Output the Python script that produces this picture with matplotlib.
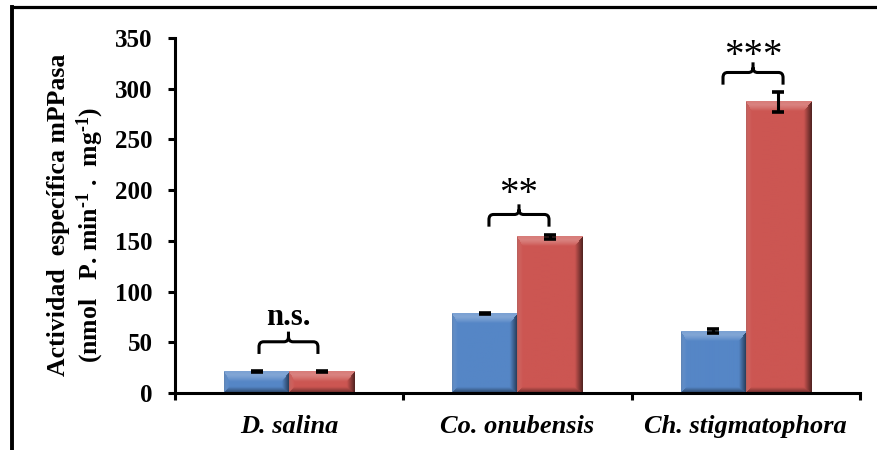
import numpy as np
import matplotlib
matplotlib.use("Agg")
import matplotlib.pyplot as plt
from matplotlib.path import Path
from matplotlib.patches import PathPatch
from matplotlib.lines import Line2D

# ---- data -------------------------------------------------------------
species = ["D. salina", "Co. onubensis", "Ch. stigmatophora"]
control = [21, 78, 61]          # blue series
treated = [21, 154, 287]        # red series
control_err = [0.5, 0.5, 2]
treated_err = [0.5, 2, 10]
signif = ["n.s.", "**", "***"]
y_ticks = [0, 50, 100, 150, 200, 250, 300, 350]

# ---- style ------------------------------------------------------------
SERIF = "Liberation Serif"
plt.rcParams["font.family"] = [SERIF, "DejaVu Serif"]
plt.rcParams["mathtext.fontset"] = "custom"
plt.rcParams["mathtext.rm"] = "Liberation Serif:bold"
plt.rcParams["mathtext.bf"] = "Liberation Serif:bold"
plt.rcParams["mathtext.it"] = "Liberation Serif:bold:italic"

BLUE = np.array([85, 134, 198]) / 255
RED = np.array([204, 86, 82]) / 255

W, H = 878, 450
fig = plt.figure(figsize=(W / 100, H / 100), dpi=100)
ax = fig.add_axes([175 / W, 1 - 393 / H, 685 / W, 355 / H])
ax.set_xlim(0, 3)
ax.set_ylim(0, 350)

# outer frame (left and top rules)
fig.add_artist(Line2D([12 / W, 12 / W], [0, 1 - 7 / H], transform=fig.transFigure,
                      color="black", lw=2.8, solid_capstyle="projecting"))
fig.add_artist(Line2D([12 / W, 1], [1 - 7 / H, 1 - 7 / H], transform=fig.transFigure,
                      color="black", lw=2.3, solid_capstyle="projecting"))

centers = np.arange(len(species)) + 0.5
bw = 0.285


def bevel_image(rgb, wpx, hpx):
    """Shaded face for a bar: light top/left bevels, dark right/bottom bevels."""
    h = max(int(round(hpx)), 2)
    w = max(int(round(wpx)), 2)
    ii = (np.arange(h)[:, None] + 0.5) * np.ones((1, w))
    jj = (np.arange(w)[None, :] + 0.5) * np.ones((h, 1))
    widths = np.array([10.0, 6.0, 6.0, 8.0])        # top, bottom, left, right
    scale = min(1.0, h / (widths[0] + widths[1]), w / (widths[2] + widths[3]))
    widths = widths * scale
    dist = np.stack([ii, h - ii, jj, w - jj])
    norm = dist / widths[:, None, None]
    edge = norm.argmin(0)
    t = np.clip(1 - norm.min(0), 0, 1)[..., None]
    base = np.ones((h, w, 3)) * rgb
    img = base.copy()
    top = base + (1 - base) * (0.34 * np.clip(t * 1.6, 0, 1)) * (1 - 0.35 * t)
    bot = base * (1 - 0.5 * t)
    left = base + (1 - base) * 0.12 * t - base * 0.15 * t ** 4
    right = base * (1 - 0.62 * t)
    for k, arr in enumerate([top, bot, left, right]):
        m = (edge == k)[..., None] & (t > 0)
        img = np.where(m, arr, img)
    return np.clip(img, 0, 1)


def draw_bar(x0, x1, val, rgb):
    p0 = ax.transData.transform((x0, 0))
    p1 = ax.transData.transform((x1, val))
    img = bevel_image(rgb, p1[0] - p0[0], p1[1] - p0[1])
    ax.imshow(img, extent=(x0, x1, 0, val), origin="upper", aspect="auto",
              interpolation="bilinear", zorder=2)


for c, v in zip(centers, control):
    draw_bar(c - bw, c, v, BLUE)
for c, v in zip(centers, treated):
    draw_bar(c, c + bw, v, RED)

ax.set_xlim(0, 3)
ax.set_ylim(0, 350)

ax.errorbar(centers - bw / 2, control, yerr=control_err, fmt="none", ecolor="black",
            elinewidth=2.2, capsize=4.3, capthick=2.6, zorder=4)
ax.errorbar(centers + bw / 2, treated, yerr=treated_err, fmt="none", ecolor="black",
            elinewidth=2.2, capsize=4.3, capthick=2.6, zorder=4)

# significance braces
bracket_x = [(0.368, 0.626), (1.375, 1.638), (2.400, 2.663)]
bracket_y = [38.5, 164, 304]
leg, tip = 12, 10
rx, ry = 0.02, 5
label_y = [74, 196, 332]
for (xl, xr), yb, lab, ly in zip(bracket_x, bracket_y, signif, label_y):
    yt = yb + leg
    xc = (xl + xr) / 2
    verts = [(xl, yb), (xl, yt - ry), (xl, yt), (xl + rx, yt), (xc - rx, yt), (xc, yt), (xc, yt + ry),
             (xc, yt + tip),
             (xc, yt + ry), (xc, yt), (xc + rx, yt), (xr - rx, yt), (xr, yt), (xr, yt - ry), (xr, yb)]
    codes = [Path.MOVETO, Path.LINETO, Path.CURVE3, Path.CURVE3, Path.LINETO, Path.CURVE3, Path.CURVE3,
             Path.LINETO,
             Path.MOVETO, Path.CURVE3, Path.CURVE3, Path.LINETO, Path.CURVE3, Path.CURVE3, Path.LINETO]
    ax.add_patch(PathPatch(Path(verts, codes), fill=False, lw=2.2, edgecolor="black",
                           capstyle="butt", zorder=5))
    if lab == "n.s.":
        ax.text(xc, ly, lab, ha="center", va="center", fontsize=22, fontweight="bold",
                family=SERIF, zorder=6)
    else:
        ax.text(xc, ly, lab, ha="center", va="center", fontsize=28, family=SERIF, zorder=6)

# axes styling
for s in ["top", "right"]:
    ax.spines[s].set_visible(False)
for s in ["left", "bottom"]:
    ax.spines[s].set_linewidth(2.2)
    ax.spines[s].set_color("black")

ax.set_yticks(y_ticks)
ax.set_yticklabels([str(v) for v in y_ticks], fontsize=18, fontweight="bold", family=SERIF)
ax.tick_params(axis="y", direction="out", length=5, width=2.2, pad=11)

ax.set_xticks([0, 1, 2, 3])
ax.set_xticklabels([])
ax.set_xticks(centers, minor=True)
ax.set_xticklabels(species, minor=True, fontsize=19, fontweight="bold", style="italic",
                   family=SERIF)
ax.tick_params(axis="x", which="major", direction="out", length=5, width=2.2)
ax.tick_params(axis="x", which="minor", length=0, pad=16)

# y-axis title in two lines
fig.text(59 / W, 1 - 215 / H, "Actividad  específica mPPasa", rotation=90, ha="center",
         va="center", fontsize=18.5, fontweight="bold", family=SERIF)
fig.text(90 / W, 1 - 235 / H, "(nmol   P. min$^{\u20101}$ .  mg$^{\u20101}$)", rotation=90,
         ha="center", va="center", fontsize=18.5, fontweight="bold", family=SERIF)

fig.savefig("out.png", dpi=100)
